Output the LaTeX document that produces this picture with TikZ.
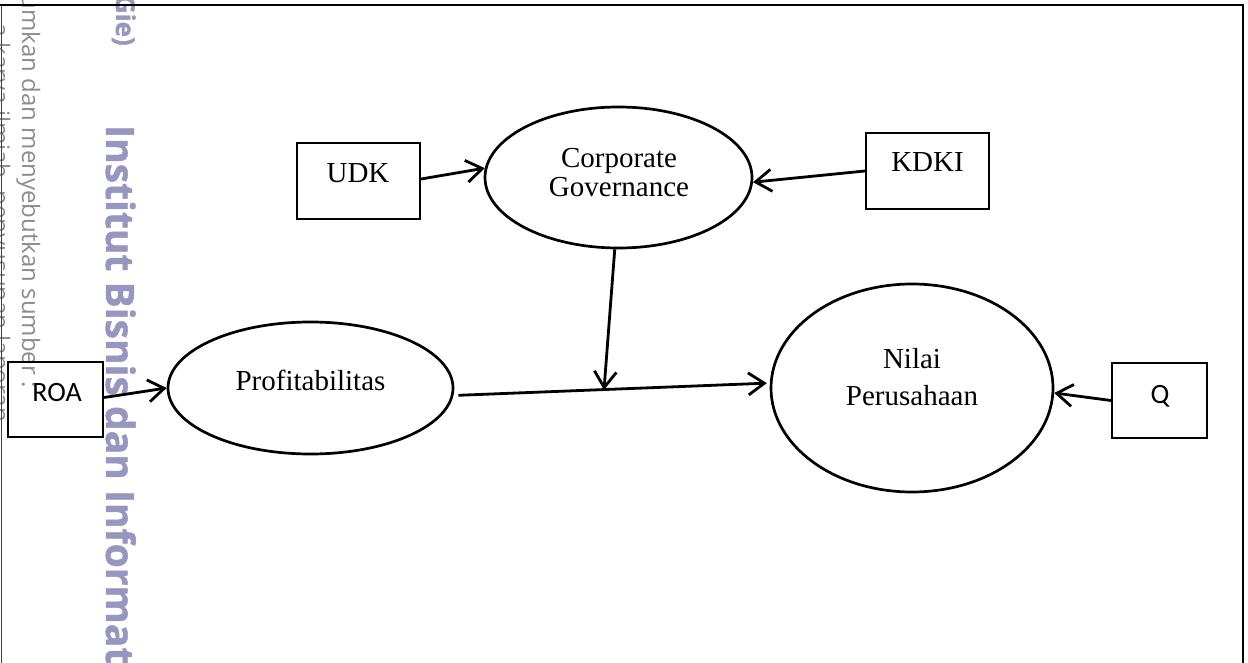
\documentclass[tikz,border=0pt]{standalone}
\usepackage{fontspec}
\setmainfont{Liberation Serif}
\newfontfamily\calibrifont{Carlito}
\newfontfamily\wmfont{Open Sans}
\newfontfamily\wmheavy{Open Sans}[BoldFeatures={FakeBold=1.2}]
\usetikzlibrary{shapes.geometric,arrows.meta}

\definecolor{wmpurple}{RGB}{150,150,190}
\definecolor{wmgray}{RGB}{140,140,140}

\tikzset{
  varbox/.style={draw, line width=2.2pt, minimum width=#1, minimum height=75pt, inner sep=0pt},
  latent/.style={draw, ellipse, line width=2.7pt, inner sep=0pt},
  lbl/.style={anchor=base, inner sep=0pt, font=\fontsize{29}{30}\selectfont},
  sanslbl/.style={anchor=base, inner sep=0pt, font=\calibrifont\fontsize{28}{30}\selectfont},
  path arrow/.style={line width=2.8pt, -{Straight Barb[length=16pt,width=22pt]}},
  wmbig/.style={rotate=-90, inner sep=0pt, text=wmpurple, font=\wmheavy\bfseries\fontsize{39}{40}\selectfont},
  wmsmall/.style={rotate=-90, inner sep=0pt, text=wmgray, font=\wmfont\fontsize{24}{26}\selectfont},
}

\begin{document}
\begin{tikzpicture}[x=1pt, y=-1pt]
  \useasboundingbox (0,0) rectangle (1248,663);
  \clip (0,0) rectangle (1248,663);

  % side notice printed along the left margin
  \node[wmsmall, anchor=base east] (noteA) at (-8,422) {a karya ilmiah, penyusunan laporan};
  \node[wmsmall, anchor=base east] (noteB) at (22,388) {cantumkan dan menyebutkan sumber :};
  \node[wmbig, anchor=base east, font=\wmheavy\bfseries\fontsize{26}{28}\selectfont] (instA) at (116,46) {Gie)};
  \node[wmbig, anchor=base west] (instB) at (106,125) {Institut Bisnis dan Informatika};

  % page frame
  \draw[line width=1.5pt, black!75] (1.5,700) -- (1.5,5);
  \draw[line width=2pt] (0,5) -- (1243,5) -- (1243,700);

  % observed indicators
  \node[varbox=123pt, minimum height=76pt] (udk) at (358.5,181) {};
  \node[varbox=123pt, minimum height=76pt] (kdki) at (927.5,171) {};
  \node[varbox=95pt] (roa) at (55.5,399.5) {};
  \node[varbox=95pt] (q) at (1159.5,400.5) {};
  \node[lbl] (udkT) at (358,183) {UDK};
  \node[lbl] (kdkiT) at (927.5,172) {KDKI};
  \node[sanslbl] (roaT) at (57,401) {ROA};
  \node[sanslbl] (qT) at (1160,403) {Q};

  % latent constructs
  \node[latent, minimum width=267pt, minimum height=141pt] (cg) at (618.5,177.5) {};
  \node[latent, minimum width=285pt, minimum height=132pt] (prof) at (310.5,388) {};
  \node[latent, minimum width=282pt, minimum height=208pt] (nilai) at (912,388) {};
  \node[lbl] (cgT1) at (619,168) {Corporate};
  \node[lbl] (cgT2) at (619,197) {Governance};
  \node[lbl] (profT) at (310.5,390) {Profitabilitas};
  \node[lbl] (nilaiT1) at (912,368) {Nilai};
  \node[lbl] (nilaiT2) at (912,405) {Perusahaan};

  % moderation point on the main path
  \coordinate (mod) at (604,390);

  % paths
  \draw[path arrow] ([yshift=2pt]udk.east) -- (cg.176);
  \draw[path arrow] (kdki.west) -- (cg.-2);
  \draw[path arrow] ([yshift=2pt]roa.east) -- (prof.west);
  \draw[path arrow, shorten <=5pt, shorten >=3pt] (prof.-3) -- (nilai.178);
  \draw[path arrow] (cg.267) -- (mod);
  \draw[path arrow] (q.west) -- (nilai.-2);
\end{tikzpicture}
\end{document}
